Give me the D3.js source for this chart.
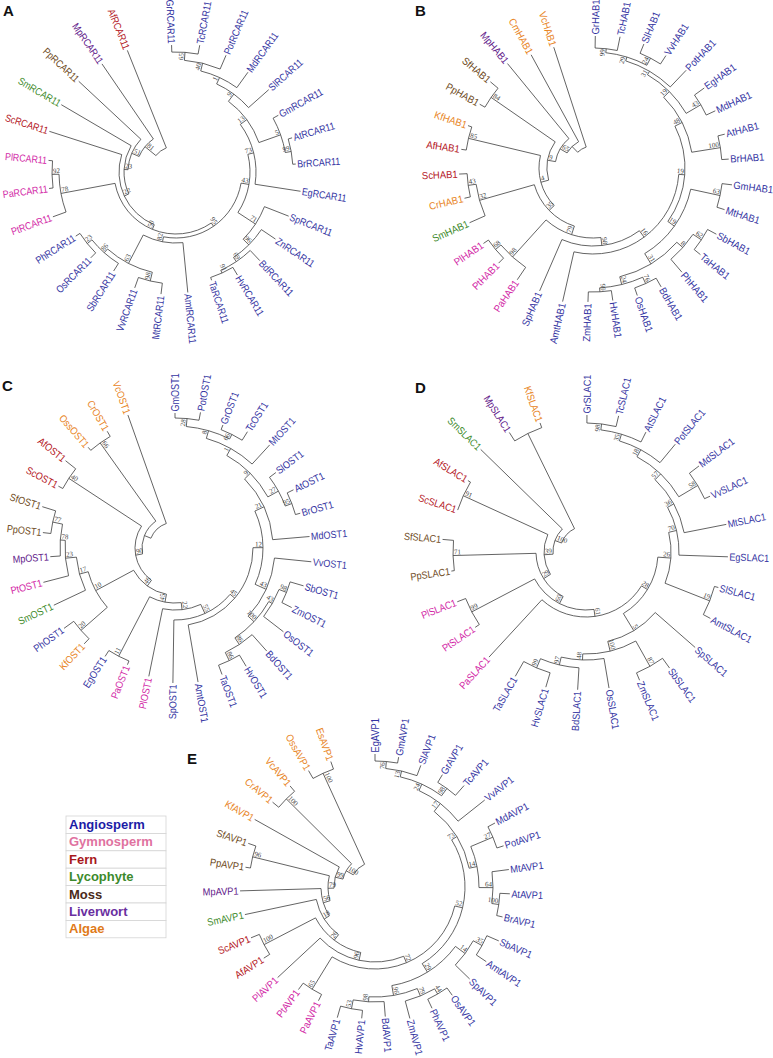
<!DOCTYPE html>
<html><head><meta charset="utf-8">
<script src="https://cdn.jsdelivr.net/npm/d3@7"></script>
<style>body{margin:0;background:#fff}</style>
</head><body>
<svg id="fig" width="773" height="1058" xmlns="http://www.w3.org/2000/svg"></svg>
<script>
// ---------- DATA ----------
// Newick trees: leaf = species prefix, internal label = bootstrap, ":" value = node depth from centre
const treeA = "((((((((((((((Gr:127,Tc:129)65:120,Pot:127)40:112,Md:123)1:104,Sl:124)9:97,(Gm:117,(At:121,Br:120)99:117)5:111)13:88,Eg:126)73:80,(Sp:121,(Zn:120,(Bd:122,(Hv:120,Ta:114)91:111)69:108)96:103)71:95)43:74,(Amt:121,((Mt:123,Vv:123)98:112,(Sb:117,(Os:121,Ph:119)23:114)86:108)63:103)82:71)95:66,(Pt:131,(Pa:128,Pl:128)92:124)78:117)50:62,Sc:133)22:57,Sm:133)23:52,Pp:133)51:48,Mp:131)81:40,Af:131):26";
const treeB = "(((((((((((((((Gr:132,Tc:134)99:120,(Sl:134,Vv:134)24:124)29:116,Pot:135)31:112,(Eg:137,Md:135)43:125)19:108,(At:136,Br:136)100:129)48:100,((Gm:140,Mt:138)63:130,(((Sb:140,Ta:138)62:130,Ph:137)8:120,((Bd:137,Os:135)76:127,(Hv:134,Zm:134)99:124)24:120)31:112)19:100)19:92,Amt:137)16:86,Sp:134)98:78,(Pa:135,(Pt:134,Pl:133)68:127)98:120)79:70,(Sm:135,(Cr:132,Sc:134)43:126)32:118)35:61,(Af:133,Kf:132)85:128)4:54,(Pp:130,Sf:134)84:124)9:46,Mp:135)65:38,Cm:129):30,Vc:127):22";
const treeC = "((((((((((((((Gm:135,Pot:138)28:130,(Gr:132,Tc:137)66:127)8:122,Mt:140)1:114,(Sl:126,(At:132,Br:130)95:125)27:118)9:106,Md:135)21:98,(Vv:137,(((Sb:134,Zm:131)98:120,Os:137)43:112,(Bd:138,(Hv:138,Ta:135)86:125)86:116)100:108)43:100)12:88,Amt:136)45:78,Sp:135)55:72,Pl:131)22:62,(Pa:126,Eg:129)11:122)45:55,((Kf:132,Ph:137)20:125,(Sm:134,(Pt:136,(Mp:125,(Pp:133,Sf:139)77:125)78:115)23:110)17:99)10:90)46:47,(Sc:132,Af:140)40:127)90:40,(Oss:133,Cr:135)66:129):33,Vc:141):26";
const treeD = "((((((((((((((Gr:137,Tc:140)98:129,At:134)35:123,Pot:140)18:116,(Md:142,Vv:136)58:130)57:108,Mt:143)36:100,Eg:142)70:93,(Sl:137,Amt:141)19:133)26:85,(Sp:145,((Sb:143,Zm:139)87:131,(Os:138,(Bd:138,(Hv:141,Ta:143)99:126)97:116)48:108)100:102)5:92)28:72,Pa:143)61:65,(Pt:134,Pl:138)99:129)60:58,(Pp:136,Sf:144)71:133)29:50,(Sc:135,Af:138)91:135)39:42,Sm:147)100:33,(Mp:142,Kf:137):132):26";
const treeE = "(((((((((((((((Eg:133,Gm:132)76:126,Sl:130)13:119,(Gr:131,Tc:135)98:122)24:113,Vv:140)17:106,((Md:136,Pot:135)27:128,(Mt:135,(At:135,Br:131)100:125)64:118)14:104)73:96,(((Sb:135,Amt:134)35:122,Sp:132)14:112,(((Os:133,Ph:134)44:124,Zm:136)79:118,(Bd:130,(Hv:132,Ta:136)53:124)98:115)96:110)29:100)52:90,(Pa:127,Pt:128)65:120)72:82,Pl:133)96:75,(Af:132,Sc:134)100:125)26:67,Sm:133)18:60,Mp:135)56:54,(Pp:131,Sf:134)96:126)79:47,Kf:138)99:41,(Cr:133,Vc:132)100:125)100:33,(Oss:134,Es:133)100:125):25";

const geneSuffixes = ["RCAR11", "HAB1", "OST1", "SLAC1", "AVP1"];
const panelLetters = ["A", "B", "C", "D", "E"];
const legendLabels = ["Angiosperm", "Gymnosperm", "Fern", "Lycophyte", "Moss", "Liverwort", "Algae"];
const gymnospermSpecies = ["Pl", "Pa", "Pt"];
const fernSpecies = ["Af", "Sc"];
const lycophyteSpecies = ["Sm"];
const mossSpecies = ["Pp", "Sf"];
const liverwortSpecies = ["Mp"];
const algaeSpecies = ["Kf", "Cr", "Vc", "Oss", "Cm", "Es"];

// ---------- STYLE / LAYOUT ----------
const legendColors = ["#1c1ca6", "#e0729f", "#a8181c", "#3c8a2c", "#4a2a1a", "#6a2fa0", "#e07a1a"];
const labelColors  = ["#3434a2", "#d21fa6", "#b3141c", "#3d8a2a", "#6e4a22", "#62208a", "#e8841e"];
const layout = [
  {cx:176, cy:172, a0:-2,  a1:338.2, lx:3,   ly:16,  sx:0.86},
  {cx:593, cy:168, a0:1,   a1:342,   lx:415, ly:16,  sx:0.92},
  {cx:175, cy:548, a0:0,   a1:340.5, lx:2,   ly:391, sx:0.88},
  {cx:586, cy:552, a0:0.4, a1:340.4, lx:415, ly:393, sx:0.88},
  {cx:375, cy:887, a0:0,   a1:340.6, lx:187, ly:764, sx:0.9}
];

function groupOf(sp){
  if (gymnospermSpecies.includes(sp)) return 1;
  if (fernSpecies.includes(sp)) return 2;
  if (lycophyteSpecies.includes(sp)) return 3;
  if (mossSpecies.includes(sp)) return 4;
  if (liverwortSpecies.includes(sp)) return 5;
  if (algaeSpecies.includes(sp)) return 6;
  return 0;
}

function parseNewick(s){
  let i = 0;
  function node(){
    const n = {children: []};
    if (s[i] === '('){
      i++;
      n.children.push(node());
      while (s[i] === ','){ i++; n.children.push(node()); }
      if (s[i] !== ')') throw new Error('bad newick at ' + i);
      i++;
    }
    let name = '';
    while (i < s.length && !':,()'.includes(s[i])) name += s[i++];
    n.name = name;
    if (s[i] === ':'){
      i++; let v = '';
      while (i < s.length && !',()'.includes(s[i])) v += s[i++];
      n.depth = +v;
    }
    return n;
  }
  return node();
}

const svg = d3.select("#fig");
svg.append("rect").attr("width",773).attr("height",1058).attr("fill","#fff");
const trees = [treeA, treeB, treeC, treeD, treeE];
const rad = a => (a - 90) * Math.PI / 180;
const pt = (a, r) => [r * Math.cos(rad(a)), r * Math.sin(rad(a))];
const norm = a => ((a % 360) + 360) % 360;

trees.forEach((str, pi) => {
  const L = layout[pi];
  const root = d3.hierarchy(parseNewick(str), d => d.children);
  const leaves = root.leaves();
  const aScale = d3.scaleLinear().domain([0, leaves.length - 1]).range([L.a0, L.a1]);
  leaves.forEach((d, i) => d.ang = aScale(i));
  root.eachAfter(d => {
    if (d.children) d.ang = (d.children[0].ang + d.children[d.children.length - 1].ang) / 2;
  });
  const rScale = d3.scaleLinear().domain([0, 150]).range([0, 150]);
  root.each(d => d.r = rScale(d.data.depth));

  const g = svg.append("g").attr("transform", `translate(${L.cx},${L.cy})`);
  const p = d3.path();
  root.descendants().forEach(d => {
    if (d.parent){
      const p0 = pt(d.ang, d.parent.r), p1 = pt(d.ang, d.r);
      p.moveTo(p0[0], p0[1]); p.lineTo(p1[0], p1[1]);
    }
    if (d.children){
      const a0 = d.children[0].ang, a1 = d.children[d.children.length - 1].ang;
      const s = pt(a0, d.r);
      p.moveTo(s[0], s[1]);
      p.arc(0, 0, d.r, rad(a0), rad(a1), false);
    }
  });
  g.append("path").attr("d", p.toString()).attr("fill", "none")
    .attr("stroke", "#3c3c3c").attr("stroke-width", 0.8);

  // leaf labels
  leaves.forEach(d => {
    const right = norm(d.ang) < 180;
    const tr = right
      ? `rotate(${d.ang - 90}) translate(${d.r + 1.5},0) scale(${L.sx},1)`
      : `rotate(${d.ang + 90}) translate(${-(d.r + 1.5)},0) scale(${L.sx},1)`;
    g.append("text").text(d.data.name + geneSuffixes[pi])
      .attr("transform", tr)
      .attr("text-anchor", right ? "start" : "end")
      .attr("dy", "0.35em")
      .attr("font-family", "'Liberation Sans', Arial, sans-serif")
      .attr("font-size", 10.3)
      .attr("fill", labelColors[groupOf(d.data.name)]);
  });

  // bootstrap values
  root.descendants().filter(d => d.children && d.data.name).forEach(d => {
    const right = norm(d.ang) < 180;
    const tr = right
      ? `rotate(${d.ang - 90}) translate(${d.r - 1},-1.2)`
      : `rotate(${d.ang + 90}) translate(${-(d.r - 1)},-1.2)`;
    g.append("text").text(d.data.name)
      .attr("transform", tr)
      .attr("text-anchor", right ? "end" : "start")
      .attr("font-family", "'Liberation Serif', 'Times New Roman', serif")
      .attr("font-size", 7)
      .attr("fill", "#444");
  });

  svg.append("text").text(panelLetters[pi])
    .attr("x", L.lx).attr("y", L.ly)
    .attr("font-family", "'Liberation Sans', Arial, sans-serif")
    .attr("font-weight", "bold").attr("font-size", 15).attr("fill", "#111");
});

// legend
const lg = svg.append("g").attr("transform", "translate(66,816)");
const rowH = 17.4;
legendLabels.forEach((t, i) => {
  lg.append("rect").attr("x", 0).attr("y", i * rowH).attr("width", 100).attr("height", rowH)
    .attr("fill", "#fff").attr("stroke", "#d4d4d4").attr("stroke-width", 0.8);
  lg.append("text").text(t).attr("x", 3).attr("y", i * rowH + 13)
    .attr("font-family", "'Liberation Sans', Arial, sans-serif")
    .attr("font-weight", "bold").attr("font-size", 13)
    .attr("fill", legendColors[i]);
});
</script>
</body></html>
